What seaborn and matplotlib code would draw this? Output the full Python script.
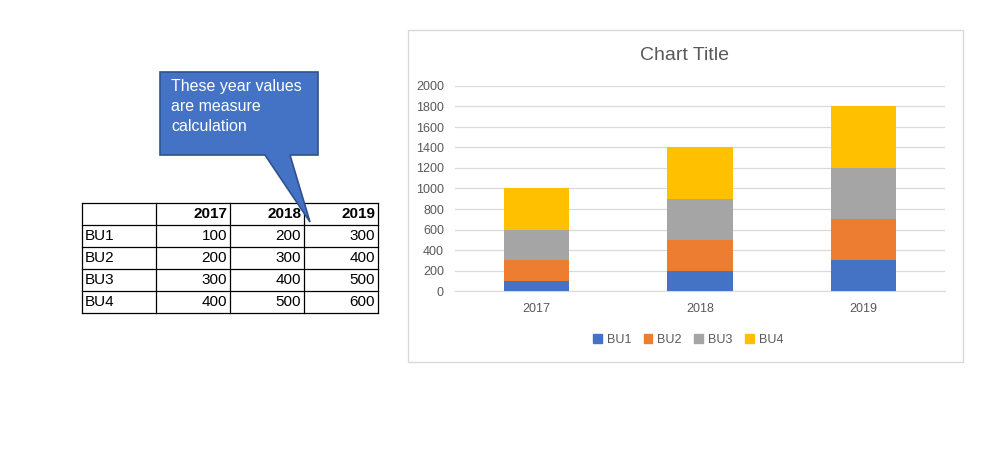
import numpy as np
import pandas as pd
import matplotlib
matplotlib.use("Agg")
import matplotlib.pyplot as plt
import seaborn as sns
from matplotlib.patches import Rectangle, Polygon

years = ["2017", "2018", "2019"]
units = ["BU1", "BU2", "BU3", "BU4"]
bu1 = [100, 200, 300]
bu2 = [200, 300, 400]
bu3 = [300, 400, 500]
bu4 = [400, 500, 600]
colors = ["#4472C4", "#ED7D31", "#A5A5A5", "#FFC000"]
yticks = list(range(0, 2001, 200))

plt.rcParams["font.family"] = "Liberation Sans"
W, H = 998, 462
fig = plt.figure(figsize=(W / 100, H / 100), dpi=100)
fig.patch.set_facecolor("white")


def fx(x):
    return x / W


def fy(y):
    return 1 - y / H


# ---- left-hand table ----
table_rows = [[""] + years] + [[u] + [str(v[i]) for i in range(3)]
                               for u, v in zip(units, [bu1, bu2, bu3, bu4])]
cols = [82, 156, 230, 304, 378]
rows = [203, 225, 247, 269, 291, 313]
for r in range(len(rows)):
    fig.add_artist(plt.Line2D([fx(cols[0]), fx(cols[-1])], [fy(rows[r])] * 2,
                              color="black", lw=0.9))
for c in cols:
    fig.add_artist(plt.Line2D([fx(c)] * 2, [fy(rows[0]), fy(rows[-1])],
                              color="black", lw=0.9))
for r, row in enumerate(table_rows):
    yc = fy((rows[r] + rows[r + 1]) / 2)
    for c, txt in enumerate(row):
        if c == 0:
            fig.text(fx(cols[0] + 3), yc, txt, ha="left", va="center", fontsize=11)
        else:
            fig.text(fx(cols[c + 1] - 3), yc, txt, ha="right", va="center",
                     fontsize=11, fontweight="bold" if r == 0 else "normal")

# ---- callout ----
pts = [(160, 72), (318, 72), (318, 155), (290, 155), (310, 222),
       (265, 155), (160, 155)]
fig.add_artist(Polygon([(fx(x), fy(y)) for x, y in pts], closed=True,
                       transform=fig.transFigure, facecolor="#4472C4",
                       edgecolor="#2F528F", lw=1.2, zorder=5))
fig.text(fx(171), fy(79), "These year values\nare measure\ncalculation",
         ha="left", va="top", color="white", fontsize=11.5, linespacing=1.4,
         zorder=6)

# ---- chart frame (behind the axes) ----
fig.add_artist(Rectangle((fx(408), fy(362)), fx(963 - 408), (362 - 30) / H,
                         transform=fig.transFigure, facecolor="white",
                         edgecolor="#D9D9D9", lw=1, zorder=-1))

ax = fig.add_axes([fx(455), fy(291), fx(945 - 455), (291 - 86) / H])
ax.patch.set_alpha(0)
df = pd.DataFrame({"year": years, "BU1": bu1, "BU2": bu2, "BU3": bu3, "BU4": bu4})
series = [bu1, bu2, bu3, bu4]
for k in range(3, -1, -1):
    df["cum"] = np.sum(series[:k + 1], axis=0)
    sns.barplot(data=df, x="year", y="cum", color=colors[k], width=0.4,
                saturation=1, ax=ax, zorder=3)
ax.set_ylim(0, 2000)
ax.set_yticks(yticks)
ax.grid(axis="y", color="#D9D9D9", lw=0.9, zorder=0)
ax.set_axisbelow(True)
for s in ["top", "right", "left"]:
    ax.spines[s].set_visible(False)
ax.spines["bottom"].set_color("#D9D9D9")
ax.tick_params(length=0, colors="#595959", labelsize=9)
ax.tick_params(axis="y", pad=8)
ax.tick_params(axis="x", pad=9)
ax.set_xlabel("")
ax.set_ylabel("")
fig.text(fx(685), fy(55), "Chart Title", ha="center", va="center",
         fontsize=14, color="#595959")

handles = [Rectangle((0, 0), 1, 1, color=c) for c in colors]
fig.legend(handles, units, loc="center", bbox_to_anchor=(fx(688), fy(340)),
           ncol=4, frameon=False, fontsize=9, handlelength=0.7,
           handleheight=0.7, columnspacing=1.0, handletextpad=0.4,
           labelcolor="#595959")

fig.savefig("out.png", dpi=100, facecolor="white")
